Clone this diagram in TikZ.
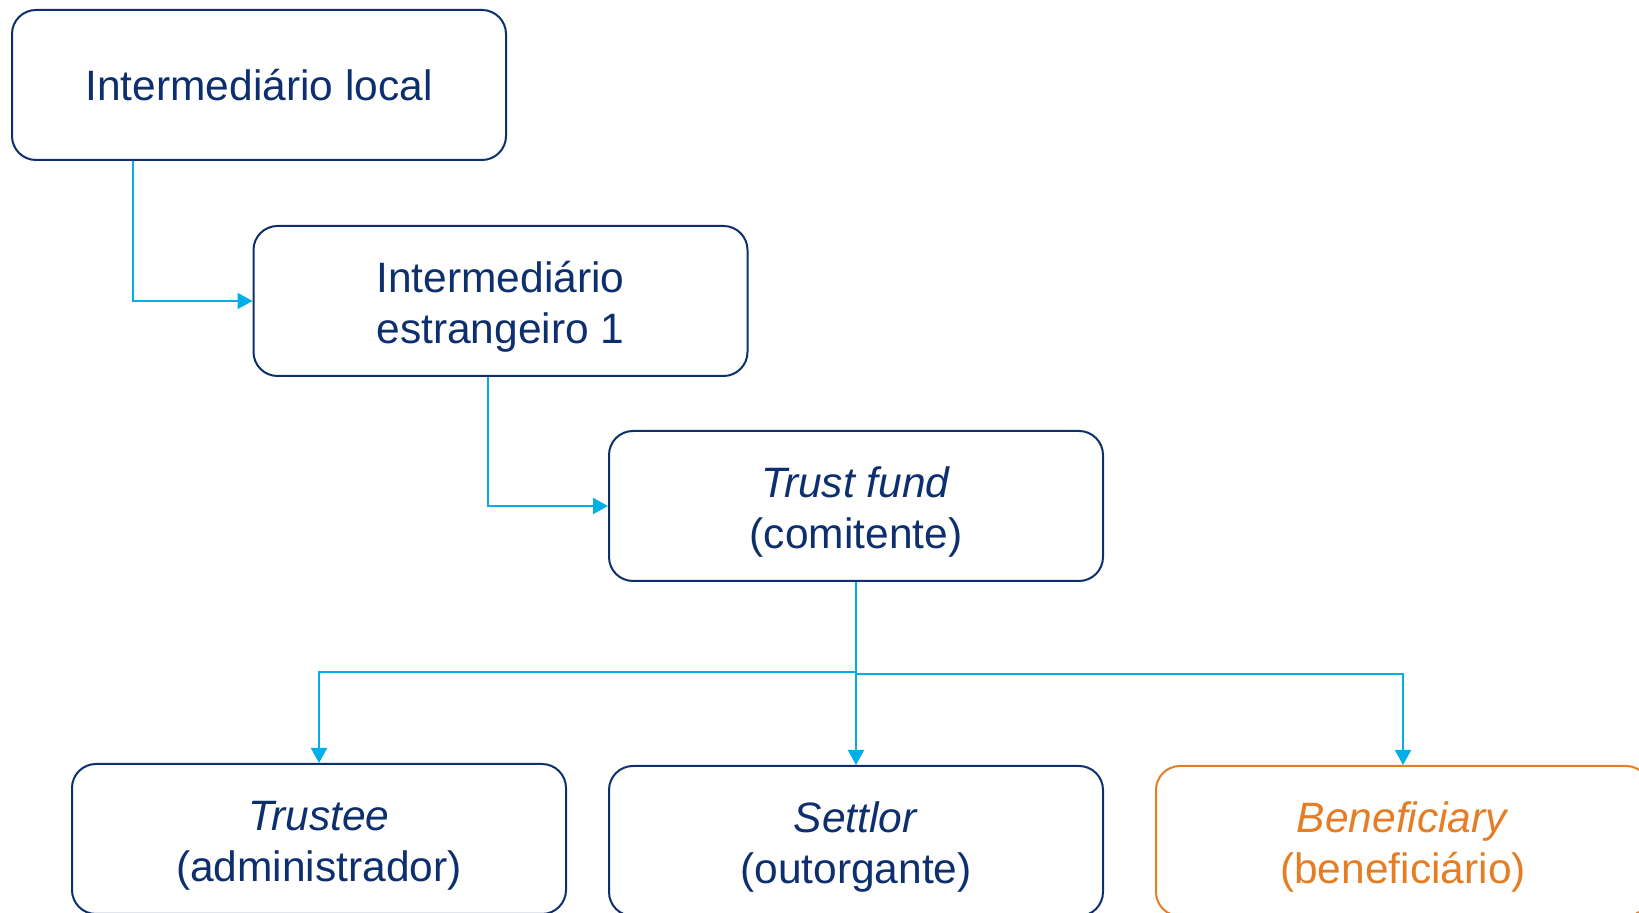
\documentclass[tikz,border=0pt]{standalone}
\usepackage{fontspec}
\setmainfont{Liberation Sans}
\usetikzlibrary{arrows.meta}
\definecolor{navy}{HTML}{0D2F6E}
\definecolor{cyanl}{HTML}{00AEE8}
\definecolor{orng}{HTML}{E57D25}
\newcommand{\mystrut}{\rule{0pt}{21.5pt}}
\tikzset{
  boxst/.style={draw=navy, line width=1pt, rounded corners=12pt, minimum width=247pt, minimum height=75pt, inner sep=0pt, align=center, text=navy, font=\fontsize{21.25pt}{25.5pt}\selectfont},
  orangebox/.style={boxst, draw=orng, text=orng},
  conn/.style={draw=cyanl, line width=1pt, -{Triangle[length=7.5pt,width=8pt]}}
}
\begin{document}
\begin{tikzpicture}[x=0.5pt,y=-0.5pt]
\useasboundingbox (0,0) rectangle (1639,913);
\node[boxst] (b1) at (259,85) {Intermediário local};
\node[boxst] (b2) at (500.5,301) {\mystrut Intermediário\\estrangeiro 1};
\node[boxst] (b3) at (856,506) {\mystrut\textit{Trust fund}\\(comitente)};
\node[boxst] (t) at (319,839) {\mystrut\textit{Trustee}\\(administrador)};
\node[boxst] (s) at (856,841) {\mystrut\textit{Settlor}\\(outorgante)};
\node[orangebox] (ben) at (1403,841) {\mystrut\textit{Beneficiary}\\(beneficiário)};
\coordinate (j1) at (856,672);
\coordinate (j2) at (856,674);
\draw[conn] ([xshift=-63pt]b1.south) |- (b2.west);
\draw[conn] ([xshift=-6.25pt]b2.south) |- (b3.west);
\draw[draw=cyanl, line width=1pt] (b3.south) -- (j1);
\draw[conn] (j1) -| (t.north);
\draw[conn] (b3.south) -- (s.north);
\draw[conn] (j2) -| (ben.north);
\end{tikzpicture}
\end{document}
